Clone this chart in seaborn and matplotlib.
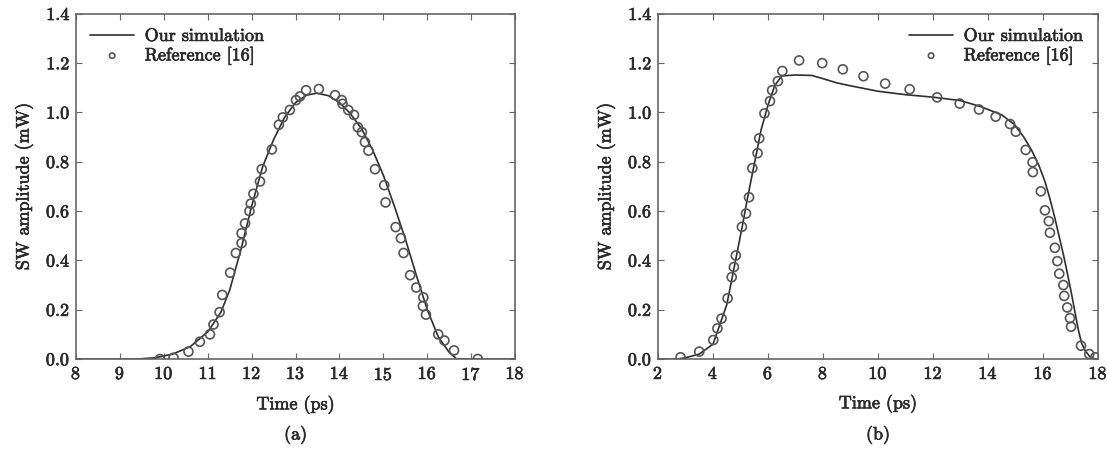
import numpy as np
import pandas as pd
import seaborn as sns
import matplotlib.pyplot as plt
import matplotlib.patheffects as pe

# panel (a): gaussian-like pulse
sim_a_t = [8.0, 9.4, 9.8, 10.2, 10.6, 11.0, 11.3, 11.5, 11.75, 12.0, 12.25, 12.5, 12.75,
           13.0, 13.25, 13.48, 13.75, 14.0, 14.25, 14.5, 14.75, 15.0, 15.25, 15.5, 15.75,
           16.0, 16.25, 16.5, 16.67, 18.0]
sim_a_v = [0.0, 0.0, 0.005, 0.02, 0.05, 0.11, 0.19, 0.28, 0.44, 0.62, 0.78, 0.89, 0.98,
           1.04, 1.07, 1.078, 1.068, 1.04, 0.995, 0.935, 0.85, 0.745, 0.62, 0.487, 0.34,
           0.2, 0.09, 0.027, 0.0, 0.0]
ref_a_t = [9.91, 10.22, 10.56, 10.82, 11.05, 11.13, 11.27, 11.33, 11.51, 11.64, 11.77, 11.77,
           11.85, 11.95, 11.98, 12.04, 12.19, 12.23, 12.46, 12.62, 12.71, 12.87, 13.01, 13.10,
           13.24, 13.53, 13.90, 14.05, 14.07, 14.20, 14.33, 14.42, 14.51, 14.58, 14.66, 14.81,
           15.02, 15.05, 15.28, 15.40, 15.46, 15.61, 15.75, 15.91, 15.90, 15.97, 16.25, 16.39,
           16.61, 17.15]
ref_a_v = [0.0, 0.005, 0.03, 0.07, 0.10, 0.14, 0.19, 0.26, 0.35, 0.43, 0.47, 0.51,
           0.55, 0.60, 0.63, 0.67, 0.72, 0.77, 0.85, 0.95, 0.98, 1.01, 1.05, 1.065,
           1.09, 1.095, 1.07, 1.05, 1.035, 1.01, 0.99, 0.94, 0.92, 0.88, 0.845, 0.77,
           0.705, 0.635, 0.535, 0.49, 0.43, 0.34, 0.29, 0.25, 0.215, 0.18, 0.10, 0.075,
           0.035, 0.0]

# panel (b): flat-top pulse
sim_b_t = [2.0, 2.7, 3.0, 3.5, 4.0, 4.5, 4.75, 5.05, 5.25, 5.5, 5.75, 6.0, 6.25, 6.5, 7.0,
           7.6, 8.0, 8.5, 9.0, 10.0, 11.0, 12.0, 13.0, 13.75, 14.5, 14.97, 15.3, 15.58, 15.85,
           16.07, 16.25, 16.43, 16.6, 16.74, 16.9, 17.04, 17.17, 17.29, 17.4, 17.53, 17.7,
           17.89, 18.0]
sim_b_v = [0.0, 0.0, 0.005, 0.02, 0.06, 0.22, 0.36, 0.53, 0.65, 0.79, 0.93, 1.03, 1.11,
           1.148, 1.152, 1.15, 1.137, 1.12, 1.108, 1.086, 1.072, 1.062, 1.048, 1.023, 0.99,
           0.95, 0.9, 0.848, 0.785, 0.72, 0.65, 0.572, 0.49, 0.424, 0.34, 0.262, 0.185,
           0.115, 0.065, 0.034, 0.01, 0.0, 0.0]
ref_b_t = [2.82, 3.50, 4.01, 4.16, 4.31, 4.53, 4.68, 4.76, 4.83, 5.05, 5.20, 5.31, 5.43,
           5.62, 5.68, 5.87, 6.07, 6.15, 6.36, 6.52, 7.13, 7.97, 8.72, 9.47, 10.26, 11.15,
           12.15, 12.97, 13.67, 14.28, 14.80, 15.01, 15.37, 15.62, 15.63, 15.92, 16.07, 16.21,
           16.25, 16.43, 16.52, 16.59, 16.74, 16.77, 16.88, 16.98, 17.02, 17.38, 17.68, 17.90]
ref_b_v = [0.007, 0.03, 0.077, 0.124, 0.164, 0.246, 0.332, 0.373, 0.42, 0.536, 0.59, 0.656,
           0.774, 0.835, 0.895, 0.996, 1.046, 1.09, 1.127, 1.168, 1.211, 1.20, 1.175, 1.147,
           1.117, 1.094, 1.061, 1.036, 1.012, 0.983, 0.953, 0.922, 0.848, 0.798, 0.758, 0.68,
           0.603, 0.559, 0.512, 0.451, 0.397, 0.346, 0.30, 0.256, 0.209, 0.166, 0.131, 0.054,
           0.02, 0.007]

sns.set_style('ticks')
plt.rcParams['font.family'] = ['cmr10', 'DejaVu Serif']
plt.rcParams['axes.formatter.use_mathtext'] = True
plt.rcParams['font.size'] = 13

line_col = '#2e2e2e'
dot_col = '#555555'
frame_col = '#666666'
txt_col = '#2a2a2a'
# the scanned text looks heavier than plain cmr10
bold_fx = [pe.withStroke(linewidth=0.5, foreground=txt_col)]

fig = plt.figure(figsize=(11.07, 4.56), dpi=100)
ax_a = fig.add_axes([0.0687, 0.2105, 0.3966, 0.757])
ax_b = fig.add_axes([0.5944, 0.2105, 0.3975, 0.757])

panels = [
    (ax_a, sim_a_t, sim_a_v, ref_a_t, ref_a_v, (8, 18), np.arange(8, 19, 1), 'upper left', '(a)'),
    (ax_b, sim_b_t, sim_b_v, ref_b_t, ref_b_v, (2, 18), np.arange(2, 19, 2), 'upper right', '(b)'),
]

for ax, st, sv, rt, rv, xlim, xt, loc, cap in panels:
    sim = pd.DataFrame({'t': st, 'v': sv})
    ref = pd.DataFrame({'t': rt, 'v': rv})
    sns.lineplot(data=sim, x='t', y='v', ax=ax, color=line_col, linewidth=1.2,
                 label='Our simulation', sort=False)
    sns.scatterplot(data=ref, x='t', y='v', ax=ax, marker='o', s=42,
                    facecolors='none', edgecolor=dot_col, linewidth=1.2,
                    label='Reference [16]', zorder=3)
    ax.set_xlim(*xlim)
    ax.set_ylim(0, 1.4)
    ax.set_xticks(xt)
    ax.set_yticks(np.arange(0, 1.41, 0.2))
    ax.yaxis.set_major_formatter(plt.FormatStrFormatter('%.1f'))
    ax.tick_params(direction='in', top=True, right=True, length=4,
                   color=frame_col, labelcolor=txt_col, labelsize=13, pad=5)
    for sp in ax.spines.values():
        sp.set_color(frame_col)
        sp.set_linewidth(1.2)
    ax.set_xlabel('Time (ps)', fontsize=13, color=txt_col, labelpad=9)
    ax.set_ylabel('SW amplitude (mW)', fontsize=13, color=txt_col, labelpad=9)
    leg = ax.legend(loc=loc, frameon=False, fontsize=13, handlelength=2.4,
                    handletextpad=0.6, labelspacing=0.2, borderaxespad=0.4,
                    markerscale=0.6)
    texts = list(leg.get_texts()) + ax.get_xticklabels() + ax.get_yticklabels()
    texts += [ax.xaxis.label, ax.yaxis.label]
    for t in texts:
        t.set_color(txt_col)
        t.set_path_effects(bold_fx)
    pos = ax.get_position()
    fig.text((pos.x0 + pos.x1) / 2, 0.044, cap, ha='center', va='center',
             fontsize=13, color=txt_col, path_effects=bold_fx)

fig.savefig('out.png', dpi=100)
